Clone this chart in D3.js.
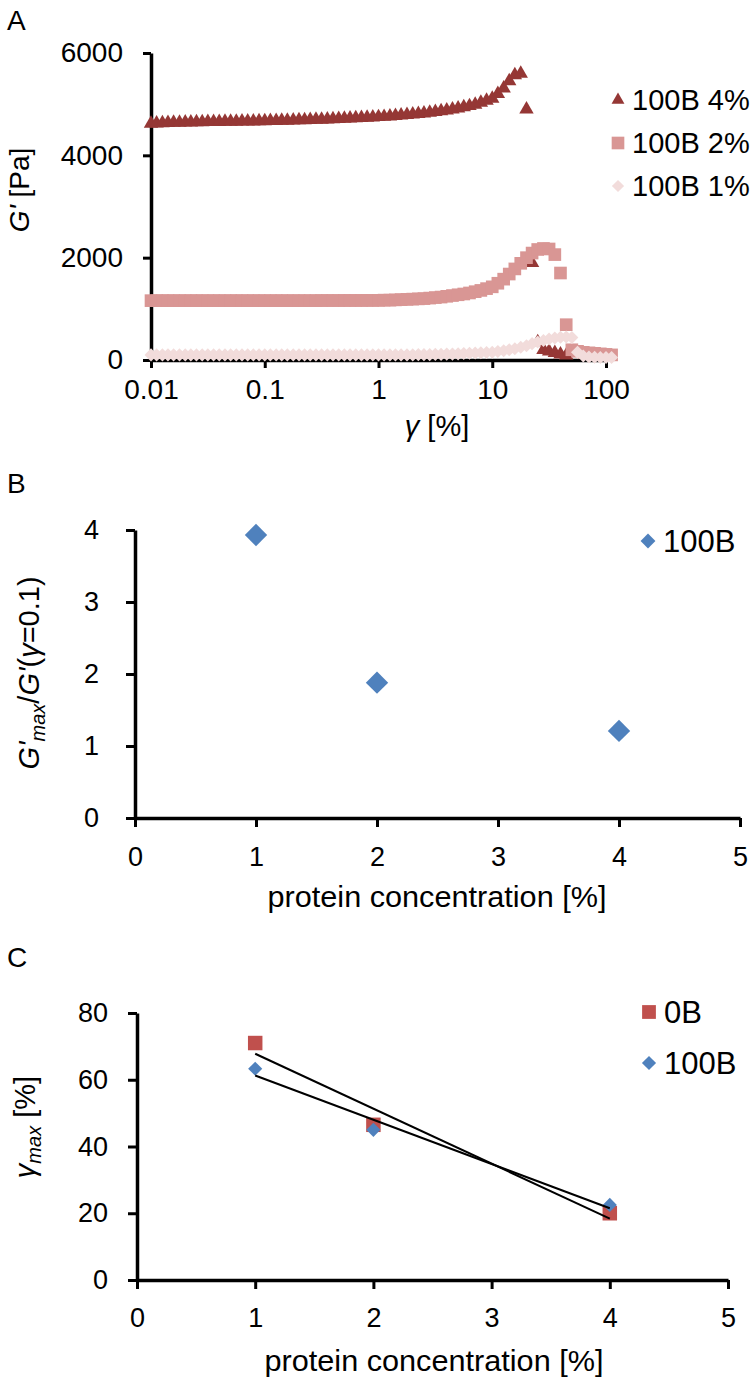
<!DOCTYPE html>
<html><head><meta charset="utf-8">
<script src="https://cdn.jsdelivr.net/npm/d3@7"></script>
<style>
body{margin:0;background:#fff}
svg{display:block}
text{font-family:"Liberation Sans",Arial,Helvetica,sans-serif;fill:#000}
</style>
</head><body>
<svg id="c" width="754" height="1379"></svg>
<script>
// ---------- Panel A data ----------
const strain = [
 0.01,0.0112,0.0126,0.0141,0.0158,0.0178,0.02,0.0224,0.0251,0.0282,0.0316,0.0355,0.0398,0.0447,0.0501,0.0562,0.0631,0.0708,0.0794,0.0891,
 0.1,0.112,0.126,0.141,0.158,0.178,0.2,0.224,0.251,0.282,0.316,0.355,0.398,0.447,0.501,0.562,0.631,0.708,0.794,0.891,
 1,1.12,1.26,1.41,1.58,1.78,2,2.24,2.51,2.82,3.16,3.55,3.98,4.47,5.01,5.62,6.31,7.08,7.94,8.91,
 10,11.2,12.6,14.1,15.8,17.8,20,22.4,25.1,28.2,31.6,35.5,39.8,44.7,50.1,56.2,63.1,70.8,79.4,89.1,
 100,112];
const g4pct = [
 4620,4625,4630,4635,4640,4640,4645,4645,4650,4650,4655,4655,4655,4660,4660,4660,4665,4665,4665,4670,
 4670,4675,4675,4680,4680,4685,4690,4690,4695,4700,4700,4705,4710,4715,4720,4725,4730,4735,4740,4745,
 4750,4755,4760,4770,4780,4790,4800,4810,4820,4835,4850,4865,4880,4900,4920,4945,4965,4990,5030,5070,
 5110,5200,5310,5450,5570,5600,4900,1900,350,200,170,140,110,90,null,null,null,null,null,null,
 null,null];
const g2pct = [
 1160,1160,1160,1160,1160,1160,1160,1160,1160,1160,1160,1160,1160,1160,1160,1160,1160,1160,1160,1160,
 1160,1160,1160,1160,1160,1160,1160,1160,1160,1160,1162,1162,1162,1162,1163,1163,1163,1164,1164,1165,
 1165,1170,1170,1175,1180,1185,1190,1195,1200,1210,1220,1230,1245,1260,1275,1290,1310,1335,1360,1395,
 1430,1500,1580,1680,1780,1890,2000,2090,2160,2180,2170,2060,1700,690,200,170,150,140,130,120,
 110,100];
const g1pct = [
 100,100,100,100,100,100,100,100,100,100,100,100,100,100,100,100,100,100,100,100,
 100,100,100,100,100,100,100,100,100,100,100,100,100,100,100,100,100,100,100,100,
 100,100,100,100,100,100,100,105,105,105,110,110,115,115,120,125,130,135,140,145,
 150,165,180,200,220,250,280,320,350,380,410,430,445,450,440,150,80,60,55,50,
 50,50];
const seriesA = ["100B 4%","100B 2%","100B 1%"];
const xTicksA = [0.01,0.1,1,10,100];
const yTicksA = [0,2000,4000,6000];

// ---------- Panel B data ----------
const concB = [1,2,4];
const ratio100B = [3.93,1.88,1.21];
const yTicksB = [0,1,2,3,4];

// ---------- Panel C data ----------
const concC = [1,2,4];
const gammaMax0B = [71,46.5,20];
const gammaMax100B = [63.3,45,22.5];
const yTicksC = [0,20,40,60,80];
const xTicksBC = [0,1,2,3,4,5];

const colA = ["#953735","#D99694","#F2DCDB"];
const blue = "#4F81BD", red = "#C0504D";
const svg = d3.select("#c");

function styleAxis(g, fs){
  g.select(".domain").attr("stroke","#000").attr("stroke-width",3.5);
  g.selectAll(".tick line").attr("stroke","#000").attr("stroke-width",3);
  g.selectAll(".tick text").style("font-size",fs+"px").attr("fill","#000");
}
function diamondPath(size){ return d3.symbol().type(d3.symbolSquare).size(size)(); }

// ================= Panel A =================
const xA = d3.scaleLog().domain([0.01,100]).range([151,606]);
const yA = d3.scaleLinear().domain([0,6000]).range([360,53]);
const gAy = svg.append("g").attr("transform","translate(151,0)")
  .call(d3.axisLeft(yA).tickValues(yTicksA).tickSize(8).tickSizeOuter(0).tickPadding(20).tickFormat(d3.format("d")));
styleAxis(gAy,28);
const gAx = svg.append("g").attr("transform","translate(0,360)")
  .call(d3.axisBottom(xA).tickValues(xTicksA).tickSize(8).tickSizeOuter(0).tickPadding(11).tickFormat(d=>String(d)));
styleAxis(gAx,28);

const shapesA = [
  {vals:g4pct, path:d3.symbol().type(d3.symbolTriangle).size(90)(), rot:0},
  {vals:g2pct, path:d3.symbol().type(d3.symbolSquare).size(160)(), rot:0},
  {vals:g1pct, path:diamondPath(85), rot:45}
];
shapesA.forEach((s,i)=>{
  const pts = strain.map((x,j)=>({x, y:s.vals[j]})).filter(p=>p.y!==null);
  svg.append("g").selectAll("path").data(pts).join("path")
    .attr("d",s.path).attr("fill",colA[i])
    .attr("transform",p=>`translate(${xA(p.x)},${yA(p.y)}) rotate(${s.rot})`);
});
// legend A
const legA = [
  {path:d3.symbol().type(d3.symbolTriangle).size(72)(), rot:0},
  {path:d3.symbol().type(d3.symbolSquare).size(160)(), rot:0},
  {path:diamondPath(75), rot:45}
];
seriesA.forEach((name,i)=>{
  const cy = 100 + i*43;
  svg.append("path").attr("d",legA[i].path).attr("fill",colA[i])
    .attr("transform",`translate(618,${cy}) rotate(${legA[i].rot})`);
  svg.append("text").attr("x",632).attr("y",cy+10).style("font-size","29px").text(name);
});
svg.append("text").attr("x",7).attr("y",30).style("font-size","28px").text("A");
// axis titles A
const tA = svg.append("text").attr("x",437).attr("y",436).attr("text-anchor","middle").style("font-size","29px");
tA.append("tspan").style("font-style","italic").text("γ");
tA.append("tspan").text(" [%]");
const yAt = svg.append("text").attr("transform","translate(29,190) rotate(-90)").attr("text-anchor","middle").style("font-size","28px");
yAt.append("tspan").style("font-style","italic").text("G'");
yAt.append("tspan").text(" [Pa]");

// ================= Panel B =================
const xB = d3.scaleLinear().domain([0,5]).range([135,740]);
const yB = d3.scaleLinear().domain([0,4]).range([818,530]);
const gBy = svg.append("g").attr("transform","translate(135,0)")
  .call(d3.axisLeft(yB).tickValues(yTicksB).tickSize(9).tickSizeOuter(0).tickPadding(27).tickFormat(d3.format("d")));
styleAxis(gBy,27);
const gBx = svg.append("g").attr("transform","translate(0,818)")
  .call(d3.axisBottom(xB).tickValues(xTicksBC).tickSize(9).tickSizeOuter(0).tickPadding(20).tickFormat(d3.format("d")));
styleAxis(gBx,27);
svg.append("g").selectAll("path").data(concB.map((c,i)=>({x:c,y:ratio100B[i]}))).join("path")
  .attr("d",diamondPath(250)).attr("fill",blue)
  .attr("transform",p=>`translate(${xB(p.x)},${yB(p.y)}) rotate(45)`);
svg.append("path").attr("d",diamondPath(110)).attr("fill",blue).attr("transform","translate(648,541) rotate(45)");
svg.append("text").attr("x",663).attr("y",552).style("font-size","31px").text("100B");
svg.append("text").attr("x",7).attr("y",493).style("font-size","28px").text("B");
svg.append("text").attr("x",437).attr("y",907).attr("text-anchor","middle").style("font-size","29px")
  .attr("textLength",339).attr("lengthAdjust","spacingAndGlyphs").text("protein concentration [%]");
const yBt = svg.append("text").attr("transform","translate(39,673) rotate(-90)").attr("text-anchor","middle").style("font-size","29px");
yBt.append("tspan").style("font-style","italic").text("G'");
yBt.append("tspan").style("font-style","italic").style("font-size","20px").attr("dy","6").text("max");
yBt.append("tspan").attr("dy","-6").text("/");
yBt.append("tspan").style("font-style","italic").text("G'");
yBt.append("tspan").text("(");
yBt.append("tspan").style("font-style","italic").text("γ");
yBt.append("tspan").text("=0.1)");

// ================= Panel C =================
const xC = d3.scaleLinear().domain([0,5]).range([137,728]);
const yC = d3.scaleLinear().domain([0,80]).range([1280,1013]);
const gCy = svg.append("g").attr("transform","translate(137,0)")
  .call(d3.axisLeft(yC).tickValues(yTicksC).tickSize(9).tickSizeOuter(0).tickPadding(20).tickFormat(d3.format("d")));
styleAxis(gCy,27);
const gCx = svg.append("g").attr("transform","translate(0,1280)")
  .call(d3.axisBottom(xC).tickValues(xTicksBC).tickSize(9).tickSizeOuter(0).tickPadding(19).tickFormat(d3.format("d")));
styleAxis(gCx,27);
const pts0B = concC.map((c,i)=>({x:c,y:gammaMax0B[i]}));
const pts100B = concC.map((c,i)=>({x:c,y:gammaMax100B[i]}));
svg.append("g").selectAll("path").data(pts0B).join("path")
  .attr("d",d3.symbol().type(d3.symbolSquare).size(210)()).attr("fill",red)
  .attr("transform",p=>`translate(${xC(p.x)},${yC(p.y)})`);
svg.append("g").selectAll("path").data(pts100B).join("path")
  .attr("d",diamondPath(100)).attr("fill",blue)
  .attr("transform",p=>`translate(${xC(p.x)},${yC(p.y)}) rotate(45)`);
function linfit(pts){
  const mx=d3.mean(pts,p=>p.x), my=d3.mean(pts,p=>p.y);
  const sxy=d3.sum(pts,p=>(p.x-mx)*(p.y-my)), sxx=d3.sum(pts,p=>(p.x-mx)**2);
  const b=sxy/sxx, a=my-b*mx;
  const x0=d3.min(pts,p=>p.x), x1=d3.max(pts,p=>p.x);
  return [{x:x0,y:a+b*x0},{x:x1,y:a+b*x1}];
}
const lineC = d3.line().x(p=>xC(p.x)).y(p=>yC(p.y));
[pts0B,pts100B].forEach(p=>{
  svg.append("path").attr("d",lineC(linfit(p))).attr("fill","none").attr("stroke","#000").attr("stroke-width",2);
});
svg.append("path").attr("d",d3.symbol().type(d3.symbolSquare).size(190)()).attr("fill",red).attr("transform","translate(649,1012)");
svg.append("text").attr("x",664).attr("y",1023).style("font-size","31px").text("0B");
svg.append("path").attr("d",diamondPath(100)).attr("fill",blue).attr("transform","translate(649,1063) rotate(45)");
svg.append("text").attr("x",664).attr("y",1074).style("font-size","31px").text("100B");
svg.append("text").attr("x",7).attr("y",967).style("font-size","28px").text("C");
svg.append("text").attr("x",434).attr("y",1371).attr("text-anchor","middle").style("font-size","29px")
  .attr("textLength",339).attr("lengthAdjust","spacingAndGlyphs").text("protein concentration [%]");
const yCt = svg.append("text").attr("transform","translate(35,1127) rotate(-90)").attr("text-anchor","middle").style("font-size","29px");
yCt.append("tspan").style("font-style","italic").text("γ");
yCt.append("tspan").style("font-style","italic").style("font-size","20px").attr("dy","6").text("max");
yCt.append("tspan").attr("dy","-6").text(" [%]");
</script>
</body></html>
